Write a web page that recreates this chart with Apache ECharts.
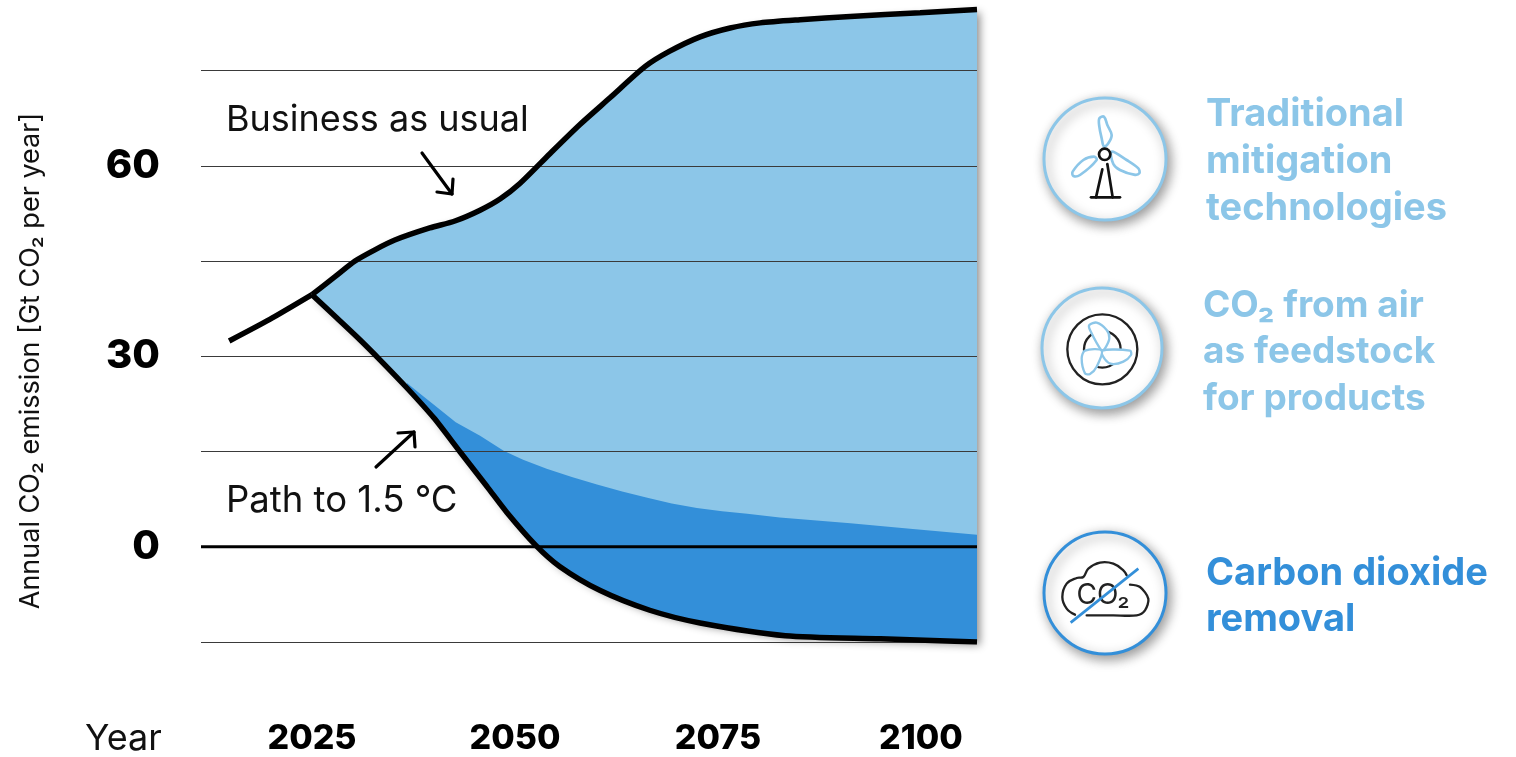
<!DOCTYPE html>
<html>
<head>
<meta charset="utf-8">
<style>html,body{margin:0;background:#fff}#chart{width:1516px;height:757px}</style>
<script src="https://cdn.jsdelivr.net/npm/echarts@6/dist/echarts.min.js"></script>
</head>
<body>
<div id="chart"></div>
<script>
// Emission trajectories, [year, Gt CO2 per year]
const history = [[2014.8,32.4],[2019.8,35.8],[2025,39.7]];
const businessAsUsual = [[2025,39.7],[2027.8,42.5],[2030.3,45],[2032.8,46.8],[2035.2,48.3],[2039.5,50.2],[2042.6,51.3],[2045.7,53],[2048.2,54.8],[2050.6,57.2],[2054.3,61.9],[2058,66.5],[2061.7,70.7],[2066,75.6],[2069,78],[2072.8,80.3],[2076.5,81.7],[2080.2,82.5],[2085.1,83],[2091.3,83.5],[2099.9,84.1],[2106.9,84.6]];
const pathTo15 = [[2025,39.7],[2028,36.1],[2030.9,32.6],[2033.4,29.4],[2036.7,25],[2040,20.3],[2043.2,15],[2046.6,9.4],[2049,5.4],[2052.5,0.3],[2055.5,-3.1],[2060.5,-6.9],[2066.6,-10],[2072.8,-12],[2083.3,-14],[2095,-14.5],[2106.9,-15]];
const removalBoundary = [[2036.7,25.8],[2038.2,24.2],[2039.9,22.5],[2042.7,19.6],[2045.7,17.5],[2048.6,15.1],[2051,13.7],[2053.9,12.3],[2057,11],[2060.1,9.8],[2063.2,8.7],[2066.3,7.7],[2069.3,6.8],[2072.4,6.1],[2075.5,5.6],[2078.6,5.2],[2082.6,4.6],[2091.3,3.7],[2099,2.8],[2106.9,1.9]];
const zeroLine = [[2011.33,0],[2106.9,0]];

const yearTicks = [2025,2050,2075,2100];
const valueTicks = [0,30,60];

const LIGHT = '#8cc6e8', DARK = '#338fd9', INK = '#000';
const FONT = 'Inter';

// Both regions are built from the trajectories above, in axis coordinates
function renderRegions(params, api) {
  const toPx = p => api.coord(p);
  const outline = businessAsUsual.concat(pathTo15.slice().reverse()).map(toPx);
  const pathBelow = pathTo15.filter(p => p[0] >= 2036.7);
  const removal = removalBoundary.concat(pathBelow.slice().reverse()).map(toPx);
  return {
    type: 'group',
    children: [
      {type:'polygon', shape:{points:outline}, style:{fill:LIGHT, shadowBlur:9, shadowOffsetX:3, shadowOffsetY:3, shadowColor:'rgba(0,0,0,0.45)'}},
      {type:'polygon', shape:{points:removal}, style:{fill:DARK}}
    ]
  };
}

function label(text, x, y, size, weight, color, extra) {
  return Object.assign({type:'text', x, y, style:{text, fontFamily:FONT, fontSize:size, fontWeight:weight, fill:color, verticalAlign:'middle'}, z:20}, extra||{});
}
function stroke(type, shape, color, w, extra) {
  return Object.assign({type, shape, style:{fill:null, stroke:color, lineWidth:w, lineCap:'round', lineJoin:'round'}, z:20}, extra||{});
}
// Badge disc in absolute pixels; icon strokes live in a local grid scaled down by three
function badge(cx, cy, r, color) {
  return {type:'circle', shape:{cx, cy, r}, style:{fill:'#fff', stroke:color, lineWidth:3, shadowBlur:12, shadowOffsetX:3, shadowOffsetY:4, shadowColor:'rgba(0,0,0,0.4)'}, z:15};
}
function iconGroup(x, y, children) {
  return {type:'group', x, y, scaleX:1/3, scaleY:1/3, children, z:20};
}
const blade = (pts) => ({type:'polygon', shape:{points:pts, smooth:0.35}, style:{fill:'none', stroke:LIGHT, lineWidth:8, lineJoin:'round'}, z:21});
const inkLine = (pts, w) => ({type:'polyline', shape:{points:pts}, style:{fill:null, stroke:'#111', lineWidth:w||8, lineCap:'round', lineJoin:'round'}, z:21});

const turbine = iconGroup(1030, 90, [
  blade([[208,85],[222,80],[232,105],[245,135],[235,160],[222,170],[215,145],[208,110]]),
  blade([[245,185],[290,210],[325,235],[328,250],[312,254],[270,240],[250,222]]),
  blade([[200,210],[150,255],[130,258],[128,245],[160,210],[192,200]]),
  inkLine([[217,238],[198,322]]),
  inkLine([[232,222],[248,322]]),
  inkLine([[183,322],[270,322]]),
  {type:'circle', shape:{cx:224,cy:193,r:17}, style:{fill:'#fff', stroke:'#111', lineWidth:8}, z:22}
]);
const fan = iconGroup(1030, 280, [
  {type:'circle', shape:{cx:217,cy:208,r:105}, style:{fill:'none', stroke:'#222', lineWidth:7}, z:21},
  {type:'circle', shape:{cx:217,cy:208,r:55}, style:{fill:'none', stroke:'#222', lineWidth:7}, z:21},
  {type:'polygon', shape:{points:[[215,212],[180,150],[178,135],[200,128],[230,150],[238,175],[225,205]], smooth:0.3}, style:{fill:'#fff', stroke:LIGHT, lineWidth:7}, z:22},
  {type:'polygon', shape:{points:[[215,212],[300,212],[303,225],[280,245],[245,252],[225,238]], smooth:0.3}, style:{fill:'#fff', stroke:LIGHT, lineWidth:7}, z:22},
  {type:'polygon', shape:{points:[[215,212],[165,212],[155,235],[165,280],[180,282],[200,260]], smooth:0.3}, style:{fill:'#fff', stroke:LIGHT, lineWidth:7}, z:22}
]);
const cloud = iconGroup(1030, 522, [
  {type:'polyline', shape:{points:[[135,278],[110,260],[97,225],[110,185],[140,168],[160,165],[175,140],[210,122],[250,125],[280,145],[290,160]], smooth:0.4}, style:{fill:null, stroke:'#222', lineWidth:7, lineCap:'round'}, z:21},
  {type:'polyline', shape:{points:[[300,188],[330,195],[355,230],[345,265],[320,280],[250,280],[170,280]], smooth:0.3}, style:{fill:null, stroke:'#222', lineWidth:7, lineCap:'round'}, z:21},
  {type:'line', shape:{x1:122,y1:302,x2:325,y2:140}, style:{stroke:DARK, lineWidth:8}, z:23}
]);

const chart = echarts.init(document.getElementById('chart'), null, {renderer:'canvas'});
chart.setOption({
  animation: false,
  backgroundColor: '#fff',
  grid: {left:201, width:776, top:7, height:635, containLabel:false},
  xAxis: {
    type:'value', min:2011.33, max:2106.9,
    axisLine:{show:false}, axisTick:{show:false}, splitLine:{show:false},
    axisLabel:{customValues:yearTicks, margin:80, formatter:v=>String(v), color:INK, fontFamily:FONT, fontWeight:800, fontSize:34}
  },
  yAxis: {
    type:'value', min:-15, max:85, interval:15, z:3,
    axisLine:{show:false}, axisTick:{show:false},
    splitLine:{show:true, showMaxLine:false, lineStyle:{color:'#3a3a3a', width:1}},
    axisLabel:{margin:41, color:INK, fontFamily:FONT, fontWeight:800, fontSize:40,
      formatter:v=>valueTicks.includes(v)?String(v):''}
  },
  series: [
    {type:'custom', name:'Regions', z:2, data:[0], renderItem:renderRegions, silent:true},
    {type:'line', name:'Zero', z:3, data:zeroLine, showSymbol:false, lineStyle:{color:INK, width:3}, silent:true},
    {type:'line', name:'History', z:5, data:history, showSymbol:false, smooth:0.2, lineStyle:{color:INK, width:5.5, cap:'butt'}},
    {type:'line', name:'Business as usual', z:5, data:businessAsUsual, showSymbol:false, smooth:0.25, lineStyle:{color:INK, width:5.5}},
    {type:'line', name:'Path to 1.5 °C', z:5, data:pathTo15, showSymbol:false, smooth:0.25, lineStyle:{color:INK, width:5.5}}
  ],
  graphic: {elements:[
    {type:'text', x:31, y:361, rotation:Math.PI/2, z:20, style:{text:'Annual CO₂ emission [Gt CO₂ per year]', fontFamily:FONT, fontSize:27, fontWeight:400, fill:'#111', align:'center', verticalAlign:'middle'}},
    label('Year', 85, 739, 36, 400, '#111'),
    label('Business as usual', 226, 120, 36, 400, '#111'),
    label('Path to 1.5 °C', 226, 501, 36.5, 400, '#111'),
    stroke('line', {x1:422,y1:153,x2:452,y2:194}, '#000', 3.2),
    stroke('polyline', {points:[[437,192],[452,194],[453,179]]}, '#000', 3.2),
    stroke('line', {x1:376,y1:467,x2:414,y2:432}, '#000', 3.2),
    stroke('polyline', {points:[[398,433],[414,432],[415,447]]}, '#000', 3.2),
    badge(1105,159,61,LIGHT), turbine,
    badge(1102,348,60,LIGHT), fan,
    badge(1105,593,61,DARK), cloud,
    {type:'text', x:1103, y:596, z:22, style:{text:'CO₂', fontFamily:FONT, fontSize:28, fill:'#222', align:'center', verticalAlign:'middle'}},
    label('Traditional', 1206, 115, 38, 700, LIGHT),
    label('mitigation', 1206, 162, 38, 700, LIGHT),
    label('technologies', 1206, 209, 38, 700, LIGHT),
    label('CO₂ from air', 1203, 306, 37, 700, LIGHT),
    label('as feedstock', 1203, 352, 37, 700, LIGHT),
    label('for products', 1203, 399, 37, 700, LIGHT),
    label('Carbon dioxide', 1206, 574, 38, 700, DARK),
    label('removal', 1206, 620, 38, 700, DARK)
  ]}
});
</script>
</body>
</html>
